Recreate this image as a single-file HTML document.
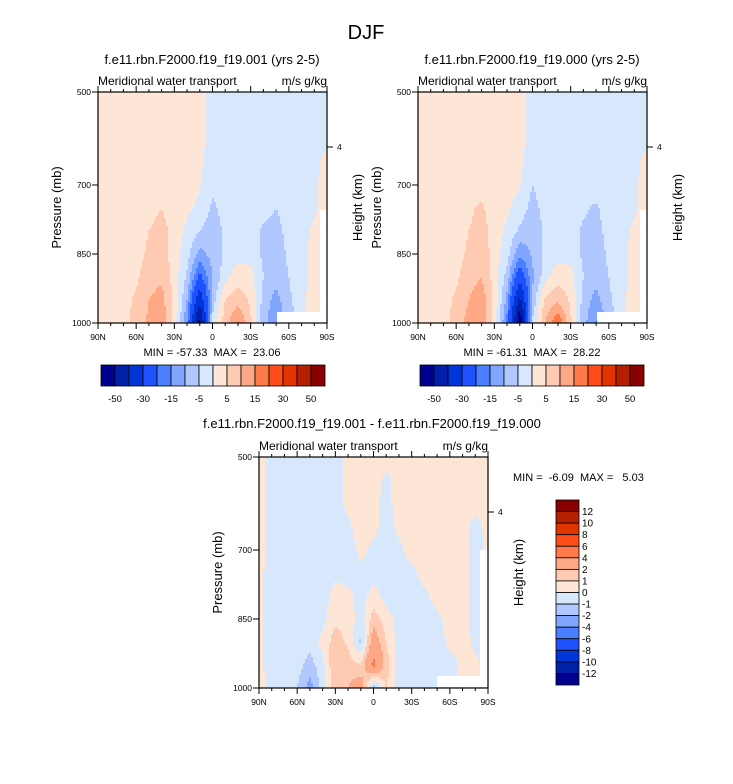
<!DOCTYPE html>
<html><head><meta charset="utf-8">
<style>
body{margin:0;background:#fff;width:733px;height:784px;overflow:hidden;font-family:"Liberation Sans",sans-serif;}
svg{position:absolute;left:0;top:0;}
text{white-space:pre;}
</style></head>
<body>
<svg id="fig" width="733" height="784" xmlns="http://www.w3.org/2000/svg"></svg>
<script>
// ---- data ----
const lats = [90,80,70,60,50,40,30,20,10,0,-10,-20,-30,-40,-50,-60,-70,-80,-90];
const levels = [500,550,600,650,700,750,800,850,900,950,1000];
const fieldA = [
[2,2,2,2,2,2,2,2,1,-1,-2,-2,-2,-2,-2,-2,-2,-2,-2],
[2,2,2,2,2,2,2,2,1,-1,-2,-2,-2,-2,-2,-2,-2,-2,-2],
[2,2,2,2,2,2,2,2,1,-1,-2,-2,-2,-2,-2,-2,-2,-1,-1],
[2,2,2,2,2,2,2,2,1,-2,-2,-2,-2,-2,-2,-2,-2,-1,1],
[2,2,2,2,2,2,2,2,0.5,-4,-2,-2,-2,-2,-2,-2,-2,-1,2],
[2,2,2,2,3,5,2,1,-1,-6,-3,-2,-2,-3,-5,-2,-2,-1,2],
[2,2,2,3,5,7,3,-1,-5,-8,-4,-2,-3,-6,-7,-3,-2,1,3],
[2,2,2,3,6,7,3,-3,-12,-8,-4,-2,-2,-6,-8,-4,-2,2,3],
[2,2,2,4,8,9,3,-6,-22,-10,-2,3,2,-5,-8,-5,-2,2,3],
[2,2,3,6,10,12,4,-10,-38,-8,5,8,4,-7,-12,-6,-2,3,3],
[2,2,3,7,11,13,3,-15,-55,-3,8,16,6,-8,-15,-8,-2,3,3]];
const fieldB = [
[2,2,2,2,2,2,2,2,1,-1,-2,-2,-2,-2,-2,-2,-2,-2,-2],
[2,2,2,2,2,2,2,2,1,-1,-2,-2,-2,-2,-2,-2,-2,-2,-2],
[2,2,2,2,2,2,2,2,1,-1,-2,-2,-2,-2,-2,-2,-2,-1,-1],
[2,2,2,2,2,2,2,2,1,-2,-2,-2,-2,-2,-2,-2,-2,-1,1],
[2,2,2,2,2,2,2,2,0.5,-5,-2,-2,-2,-2,-2,-2,-2,-1,2],
[2,2,2,2,4,6,2,1,-2,-7,-3,-2,-2,-4,-6,-2,-2,-1,2],
[2,2,2,3,5,7,3,-1,-6,-9,-4,-2,-3,-6,-7,-3,-2,1,3],
[2,2,2,3,6,8,3,-3,-14,-9,-4,-2,-2,-6,-8,-4,-2,2,3],
[2,2,2,4,8,10,3,-7,-26,-11,-2,3,2,-5,-8,-5,-2,2,3],
[2,2,3,6,10,13,4,-12,-44,-9,6,9,4,-7,-12,-6,-2,3,3],
[2,2,3,7,12,15,3,-17,-60,-4,10,20,6,-8,-16,-8,-2,3,3]];
const fieldC = [
[0.5,-0.5,-0.5,-0.5,-0.5,-0.5,-0.5,0.3,0.5,0.5,0.5,0.5,0.5,0.5,0.5,0.5,0.5,0.5,0.5],
[0.5,-0.5,-0.5,-0.5,-0.5,-0.5,-0.5,0.3,0.5,0.5,-0.3,0.5,0.5,0.5,0.5,0.5,0.5,0.5,0.5],
[0.5,-0.5,-0.5,-0.5,-0.5,-0.5,-0.5,0.3,0.5,0.3,-0.4,0.5,0.5,0.5,0.5,0.5,0.5,0.5,0.5],
[0.5,-0.5,-0.5,-0.5,-0.5,-0.5,-0.5,-0.2,0.5,0.3,-0.5,0.3,0.5,0.5,0.5,0.5,0.5,-0.5,0.5],
[0.5,-0.5,-0.5,-0.5,-0.5,-0.5,-0.5,-0.5,0.3,-0.3,-0.5,-0.3,0.5,0.5,0.5,0.5,0.5,-0.5,0.3],
[0.3,-0.5,-0.5,-0.5,-0.5,-0.5,-0.3,-0.5,-0.3,-0.5,-0.5,-0.5,-0.3,0.5,0.5,0.5,0.5,-0.5,-0.5],
[0.3,-0.5,-0.5,-0.5,-0.5,-0.5,0.5,0.3,-0.5,0.5,-0.5,-0.5,-0.5,-0.3,0.5,0.5,0.5,-0.5,-0.5],
[0.3,-0.5,-0.5,-0.5,-0.5,-0.3,0.8,0.5,-0.5,1.5,0.5,-0.5,-0.5,-0.5,-0.3,0.5,0.5,-0.5,-0.5],
[0.3,-0.5,-0.5,-0.5,-0.5,0.3,1.5,0.8,-1.2,3,1,-0.5,-0.5,-0.5,-0.5,0.3,0.5,-0.3,-0.5],
[0.3,-0.5,-0.5,-0.5,-1.5,-0.3,2,1.5,1,4.5,1.5,-0.5,-0.5,-0.5,-0.5,-0.5,0.3,0.3,-0.5],
[0.3,-0.3,-0.5,-1,-2.5,-0.5,1.5,2,3,-2,1,-0.5,-0.3,-0.5,-0.5,-0.5,0.3,0.3,0.3]];
const boundsTop = [-50,-40,-30,-20,-15,-10,-5,0,5,10,15,20,30,40,50];
const boundsDiff = [-12,-10,-8,-6,-4,-2,-1,0,1,2,4,6,8,10,12];
const topCbLabels = ["-50","-30","-15","-5","5","15","30","50"];
const diffCbLabels = ["12","10","8","6","4","2","1","0","-1","-2","-4","-6","-8","-10","-12"];
const xTickLabels = ["90N","60N","30N","0","30S","60S","90S"];
const yTickLabels = [500,700,850,1000];
const colors = ['#00008f','#0020a8','#0035d8','#1e52ff','#4a7fff','#80a6ff','#b0c8ff','#d7e8fd','#fee6d6','#fecab2','#fea985','#ff7a4a','#ff4d1a','#e23400','#b52000','#8a0000'];

const NS='http://www.w3.org/2000/svg';
const svg=document.getElementById('fig');
function mk(tag,attrs,parent){const e=document.createElementNS(NS,tag);for(const k in attrs)e.setAttribute(k,attrs[k]);(parent||svg).appendChild(e);return e;}
function txt(s,attrs,parent){const e=mk('text',attrs,parent);e.textContent=s;return e;}

function makePlot(px,py,field,bounds,name,maskRects){
  const W=229,H=231;
  const g=mk('g',{});
  
  
  const xScale=lat=>px+(90-lat)/180*W;
  const yScale=p=>{
    if(p<=700) return py+(p-500)/200*93;
    if(p<=850) return py+93+(p-700)/150*69;
    return py+162+(p-850)/150*69;};
  const pInv=y=>{const d=y-py; if(d<=93) return 500+d/93*200; if(d<=162) return 700+(d-93)/69*150; return 850+(d-162)/69*150;};
  function val(lat,p){
    let fi=(90-lat)/10; fi=Math.max(0,Math.min(lats.length-1.0001,fi));
    let fj=(p-500)/50; fj=Math.max(0,Math.min(levels.length-1.0001,fj));
    const i=Math.floor(fi),j=Math.floor(fj),a=fi-i,b=fj-j;
    return field[j][i]*(1-a)*(1-b)+field[j][i+1]*a*(1-b)+field[j+1][i]*(1-a)*b+field[j+1][i+1]*a*b;}
  function bin(v){let k=0;while(k<bounds.length&&v>=bounds[k])k++;return k;}
  const step=2;
  for(let y=0;y<H;y+=step){
    const p=pInv(py+y+step/2);
    let runStart=0,runBin=-1;
    for(let x=0;;x+=step){
      const end=x>=W;
      let b=-2;
      if(!end){const lat=90-(x+step/2)/W*180;b=bin(val(lat,p));}
      if(b!==runBin){
        if(runBin>=0){const xe=Math.min(x,W);const r=mk('rect',{x:px+runStart,y:py+y,width:xe-runStart+0.5,height:Math.min(step+0.5,H-y),fill:colors[runBin]},g);
          
          }
        runStart=x;runBin=b;}
      if(end)break;
    }
  }
  maskRects.forEach(m=>mk('rect',{x:m[0],y:m[1],width:m[2],height:m[3],fill:'#fff'},g));
  mk('rect',{x:px,y:py,width:W,height:H,fill:'none',stroke:'#000','stroke-width':1.2},g);
  for(let lat=90;lat>=-90;lat-=10){
    const x=xScale(lat),major=lat%30===0;
    mk('line',{x1:x,x2:x,y1:py+H,y2:py+H+(major?6:3),stroke:'#000','stroke-width':1},g);
    mk('line',{x1:x,x2:x,y1:py,y2:py-(major?6:3),stroke:'#000','stroke-width':1},g);
  }
  xTickLabels.forEach((s,i)=>{const t=txt(s,{x:xScale(90-30*i),y:py+H+17,'font-size':8.5,'text-anchor':'middle'},g);
    });
  yTickLabels.forEach(p=>{const y=yScale(p);
    mk('line',{x1:px,x2:px-6,y1:y,y2:y,stroke:'#000'},g);
    const t=txt(String(p),{x:px-7,y:y+3,'font-size':8.5,'text-anchor':'end'},g);
    });
  const y4=py+55;
  mk('line',{x1:px+W,x2:px+W+6,y1:y4,y2:y4,stroke:'#000'},g);
  txt('4',{x:px+W+10,y:y4+3,'font-size':8.5},g);
  const yl=txt('Pressure (mb)',{transform:`translate(${px-37},${py+H/2}) rotate(-90)`,'font-size':13,'text-anchor':'middle'},g);
  
  const hl=txt('Height (km)',{transform:`translate(${px+W+35},${py+H/2}) rotate(-90)`,'font-size':13,'text-anchor':'middle'},g);
  
  const l1=txt('Meridional water transport',{x:px,y:py-7,'font-size':12},g);
  
  const l2=txt('m/s g/kg',{x:px+W,y:py-7,'font-size':12,'text-anchor':'end'},g);
  
}

function hColorbar(x0,y0,name){
  const g=mk('g',{});
  
  
  const bw=14;
  colors.forEach((c,i)=>{const r=mk('rect',{x:x0+i*bw,y:y0,width:bw,height:21,fill:c,stroke:'#000','stroke-width':0.8},g);
    });
  topCbLabels.forEach((s,i)=>{txt(s,{x:x0+bw*(1+2*i),y:y0+37,'font-size':9.5,'text-anchor':'middle'},g);});
}

const T=txt('DJF',{x:366,y:39,'font-size':20,'text-anchor':'middle'});


let t=txt('f.e11.rbn.F2000.f19_f19.001 (yrs 2-5)',{x:212,y:64,'font-size':13,'text-anchor':'middle'});

t=txt('f.e11.rbn.F2000.f19_f19.000 (yrs 2-5)',{x:532,y:64,'font-size':13,'text-anchor':'middle'});

t=txt('f.e11.rbn.F2000.f19_f19.001 - f.e11.rbn.F2000.f19_f19.000',{x:372,y:428,'font-size':13,'text-anchor':'middle'});


makePlot(98,92,fieldA,boundsTop,'plot-001',[[277,312,50,11],[320,210,7,102]]);
makePlot(418,92,fieldB,boundsTop,'plot-000',[[597,312,50,11],[640,210,7,102]]);
makePlot(259,457,fieldC,boundsDiff,'plot-diff',[[437,676,51,11],[480,550,8,126]]);

t=txt('MIN = -57.33  MAX =  23.06',{x:212,y:356,'font-size':11,'text-anchor':'middle'});

t=txt('MIN = -61.31  MAX =  28.22',{x:532,y:356,'font-size':11,'text-anchor':'middle'});

t=txt('MIN =  -6.09  MAX =   5.03',{x:513,y:481,'font-size':11});


hColorbar(101,365,'colorbar-left');
hColorbar(420,365,'colorbar-right');

const vg=mk('g',{});


const bh=185/16;
colors.slice().reverse().forEach((c,i)=>{const r=mk('rect',{x:556,y:500+i*bh,width:23,height:bh,fill:c,stroke:'#000','stroke-width':0.8},vg);
  });
diffCbLabels.forEach((s,i)=>{txt(s,{x:582,y:500+bh*(i+1)+3.5,'font-size':10},vg);});
</script>
</body></html>
